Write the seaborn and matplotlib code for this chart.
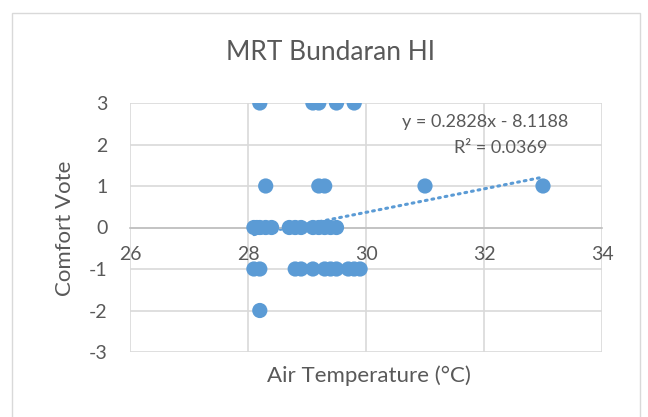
import matplotlib
matplotlib.use("Agg")
import matplotlib.pyplot as plt
import seaborn as sns
import pandas as pd
from matplotlib.patches import Rectangle

# air temperature (°C) and comfort vote
temp = [28.2, 29.1, 29.2, 29.5, 29.8,
        28.3, 29.2, 29.3, 31.0, 33.0,
        28.1, 28.15, 28.2, 28.3, 28.4, 28.7, 28.8, 28.9, 29.1, 29.2, 29.3, 29.4, 29.5,
        28.1, 28.2, 28.8, 28.9, 29.1, 29.3, 29.4, 29.5, 29.7, 29.8, 29.9,
        28.2]
vote = [3, 3, 3, 3, 3,
        1, 1, 1, 1, 1,
        0, 0, 0, 0, 0, 0, 0, 0, 0, 0, 0, 0, 0,
        -1, -1, -1, -1, -1, -1, -1, -1, -1, -1, -1,
        -2]
slope, intercept, r2 = 0.2828, -8.1188, 0.0369

df = pd.DataFrame({"temp": temp, "vote": vote})

blue = "#5B9BD5"
grey_txt = "#595959"
grid_c = "#D9D9D9"
font = ["Lato", "DejaVu Sans"]

sns.set_style("white")
plt.rcParams["font.family"] = font
plt.rcParams["axes.unicode_minus"] = False

fig = plt.figure(figsize=(6.48, 4.17), dpi=100)
fig.patches.append(Rectangle((12 / 648, -0.05), 628 / 648, 1.05 - 13 / 417,
                             transform=fig.transFigure, fill=False,
                             edgecolor=grid_c, linewidth=1))
ax = fig.add_axes([130 / 648, (417 - 352) / 417, 472 / 648, 249 / 417])

sns.scatterplot(data=df, x="temp", y="vote", ax=ax, color=blue, s=120,
                edgecolor="none", zorder=3)

x0, x1 = df["temp"].min(), df["temp"].max()
ax.plot([x0, x1], [slope * x0 + intercept, slope * x1 + intercept],
        color=blue, linestyle=(0, (0.6, 1.6)), linewidth=2.2,
        dash_capstyle="round", zorder=2)

ax.set_xlim(26, 34)
ax.set_ylim(-3, 3)
ax.set_xticks([26, 28, 30, 32, 34])
ax.set_yticks(range(-3, 4))
ax.grid(True, color=grid_c, linewidth=1.2)
ax.set_axisbelow(True)
for s in ["top", "right", "left"]:
    ax.spines[s].set_visible(False)
ax.spines["bottom"].set_position(("data", 0))
ax.spines["bottom"].set_color("#BFBFBF")
ax.spines["bottom"].set_linewidth(1.2)
ax.tick_params(length=0, labelsize=14, colors=grey_txt)
ax.tick_params(axis="y", pad=16)
ax.tick_params(axis="x", pad=13)

ax.set_xlabel("")
ax.set_ylabel("")
fig.text(369 / 648, 1 - 376 / 417, "Air Temperature (°C)", ha="center",
         va="center", fontsize=16, color=grey_txt)
fig.text(65 / 648, 1 - 228 / 417, "Comfort Vote", ha="center", va="center",
         rotation=90, fontsize=16, color=grey_txt)
fig.text(330 / 648, 1 - 52 / 417, "MRT Bundaran HI", ha="center", va="center",
         fontsize=19, color=grey_txt)

fig.text(485 / 648, 1 - 122 / 417, f"y = {slope}x - {abs(intercept)}",
         ha="center", va="center", fontsize=13, color=grey_txt)
fig.text(501 / 648, 1 - 148 / 417, f"R² = {r2}", ha="center", va="center",
         fontsize=13, color=grey_txt)

fig.savefig("out.png", dpi=100)
